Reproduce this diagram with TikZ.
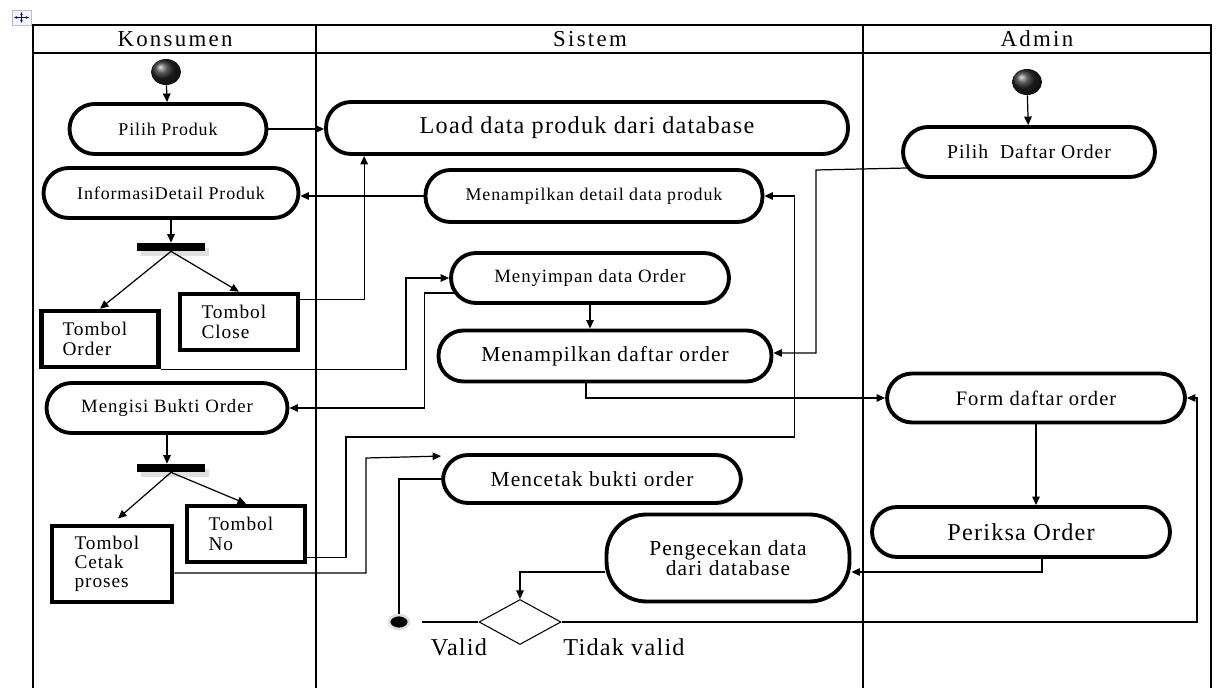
\documentclass[tikz,border=0pt]{standalone}
\usepackage{fontspec}
\setmainfont{Liberation Serif}[LetterSpace=5]
\newfontfamily\headfont{Liberation Serif}[LetterSpace=10]
\usetikzlibrary{arrows.meta,calc,shadows,shapes.geometric}
\tikzset{
	lane/.style = {
		line width=0.8pt
	},
	head/.style = {
		font=\headfont\fontsize{13}{15}\selectfont
	},
	act/.style = {
		shape=rectangle,
		draw,
		line width=2.2pt,
		rounded corners=0.5cm,
		minimum height=1cm,
		inner sep=2pt
	},
	btn/.style = {
		shape=rectangle,
		draw,
		line width=2.6pt,
		text width=1.5cm,
		align=left,
		font=\fontsize{11}{11}\selectfont
	},
	bar/.style = {
		shape=rectangle,
		fill=black,
		minimum width=1.36cm,
		minimum height=0.16cm,
		inner sep=0pt,
		drop shadow={shadow xshift=2pt, shadow yshift=-3pt, opacity=0.25}
	},
	start/.style = {
		shape=ellipse,
		shading=ball,
		ball color=black!85,
		minimum width=0.6cm,
		minimum height=0.52cm,
		inner sep=0pt
	},
	final/.style = {
		shape=ellipse,
		fill=black,
		draw=gray!25,
		line width=1.5pt,
		minimum width=0.4cm,
		minimum height=0.28cm,
		inner sep=0pt
	},
	decision/.style = {
		shape=diamond,
		draw,
		line width=0.6pt,
		minimum width=1.64cm,
		minimum height=0.9cm,
		inner sep=0pt
	},
	flow/.style = {
		line width=0.7pt,
		-{Triangle[length=1.7mm, width=1.5mm]}
	},
	link/.style = {
		line width=0.7pt
	}
}

\begin{document}
\begin{tikzpicture}[x=0.02cm, y=-0.02cm]
	\useasboundingbox (0,0) rectangle (1216,688);
	\draw[gray!50, fill=blue!4] (12,10) rectangle (31,25);
	\draw[blue!60!black, line width=0.6pt, {Latex[length=2pt]}-{Latex[length=2pt]}] (21.5,11.5) -- (21.5,23.5);
	\draw[blue!60!black, line width=0.6pt, {Latex[length=2pt]}-{Latex[length=2pt]}] (13.5,17.5) -- (29.5,17.5);
	\draw[lane] (33,688) -- (33,25) -- (1211,25) -- (1211,688);
	\draw[lane] (33,53) -- (1211,53);
	\draw[lane] (316,25) -- (316,688);
	\draw[lane] (863,25) -- (863,688);
	\node[head] (konsumen) at (175,39) {Konsumen};
	\node[head] (sistem) at (590,39) {Sistem};
	\node[head] (admin) at (1037,39) {Admin};

	\node[start] (mulai1) at (166,72) {};
	\node[act, minimum width=3.94cm, font=\fontsize{10.2}{12}\selectfont] (pilihproduk) at (168,129) {Pilih Produk};
	\node[act, minimum width=5.1cm, font=\fontsize{10.2}{12}\selectfont] (infodetail) at (171,193) {InformasiDetail Produk};
	\node[bar] (fork1) at (171,247) {};
	\node[btn, minimum width=2.34cm, minimum height=1.12cm] (torder) at (100,339) {Tombol\\Order};
	\node[btn, minimum width=2.36cm, minimum height=1.12cm] (tclose) at (239,322) {Tombol\\Close};
	\node[act, minimum width=4.82cm, font=\fontsize{10.7}{12}\selectfont] (mengisi) at (167,408) {Mengisi Bukti Order};
	\node[bar] (fork2) at (171,468) {};
	\node[btn, minimum width=2.4cm, minimum height=1.52cm] (tcetak) at (112,564) {Tombol\\Cetak\\proses};
	\node[btn, minimum width=2.36cm, minimum height=1.12cm] (tno) at (246,534) {Tombol\\No};

	\node[act, minimum width=10.44cm, minimum height=1.04cm, font=\fontsize{13.8}{15}\selectfont] (load) at (587,128) {Load data produk dari database};
	\node[act, minimum width=6.74cm, minimum height=1.04cm, font=\fontsize{10.2}{12}\selectfont] (detail) at (594,196) {Menampilkan detail data produk};
	\node[act, minimum width=5.56cm, font=\fontsize{10.7}{12}\selectfont] (menyimpan) at (590,278) {Menyimpan data Order};
	\node[act, minimum width=6.66cm, minimum height=1.02cm, font=\fontsize{12.2}{14}\selectfont] (daftar) at (605,356) {Menampilkan daftar order};
	\node[act, minimum width=5.96cm, minimum height=0.96cm, font=\fontsize{12.2}{14}\selectfont] (mencetak) at (592,479) {Mencetak bukti order};
	\node[act, rounded corners=0.8cm, minimum width=4.86cm, minimum height=1.74cm, align=center, font=\fontsize{12.2}{11.5}\selectfont] (cek) at (728,558) {Pengecekan data\\dari database};
	\node[decision] (dec) at (520,622) {};
	\node[final] (final) at (399,622) {};
	\node[font=\fontsize{13.8}{15}\selectfont] (valid) at (459,647) {Valid};
	\node[font=\fontsize{13.8}{15}\selectfont] (tidakvalid) at (624,647) {Tidak valid};

	\node[start] (mulai2) at (1027,82) {};
	\node[act, minimum width=5.04cm, font=\fontsize{11.2}{13}\selectfont] (pilihorder) at (1029,152) {Pilih\ \ Daftar Order};
	\node[act, minimum width=5.96cm, minimum height=0.98cm, font=\fontsize{11.7}{13}\selectfont] (form) at (1036,398) {Form daftar order};
	\node[act, minimum width=5.96cm, font=\fontsize{13.8}{15}\selectfont] (periksa) at (1021,532) {Periksa Order};

	\draw[flow] (mulai1) -- (pilihproduk);
	\draw[flow] (pilihproduk.east) -- (pilihproduk.east -| load.west);
	\draw[flow] (detail.west) -- (detail.west -| infodetail.east);
	\draw[flow] (infodetail.south) -- (infodetail.south |- fork1.north);
	\draw[flow] (fork1.south) -- (torder.north);
	\draw[flow] (fork1.south) -- (tclose.north);
	\draw[flow] ($(tclose.north east)+(0,8)$) -| ($(load.south west)+(40,0)$);
	\draw[flow] (torder.south east) -| ($(menyimpan.west)+(-43,0)$) -- (menyimpan.west);
	\draw[flow] ($(menyimpan.west)+(5,15)$) -| ($(mengisi.east)+(135,0)$) -- (mengisi.east);
	\draw[flow] (menyimpan.south) -- (menyimpan.south |- daftar.north);
	\draw[flow] (mengisi.south) -- (mengisi.south |- fork2.north);
	\draw[flow, shorten >=0.16cm] (fork2.south) -- (tcetak.north);
	\draw[flow] (fork2.south) -- (tno.north);
	\draw[flow] ($(tno.south east)+(0,-7)$) -| (346,437) -| ($(detail.east)+(30,0)$) -- (detail.east);
	\draw[flow] ($(tcetak.east)+(0,9)$) -| (366,458) -- ($(mencetak.north west)+(0,3)$);
	\draw[link] (mencetak.west) -| (final.north);
	\draw[flow] ($(pilihorder.west)+(6,16)$) -- (816,170) |- ($(daftar.east)+(0,-3)$);
	\draw[flow] ($(daftar.south)+(-19,0)$) |- (form.west);
	\draw[flow] (mulai2) -- (pilihorder);
	\draw[flow] (form.south) -- (form.south |- periksa.north);
	\draw[flow] ($(periksa.south)+(21,0)$) |- ($(cek.east)+(0,14)$);
	\draw[flow] ($(cek.west)+(0,14)$) -| (dec.north);
	\draw[link, shorten >=0.24cm] (dec.west) -- (final.east);
	\draw[flow] (dec.east) -| (1197,398) -- (form.east);
\end{tikzpicture}
\end{document}
